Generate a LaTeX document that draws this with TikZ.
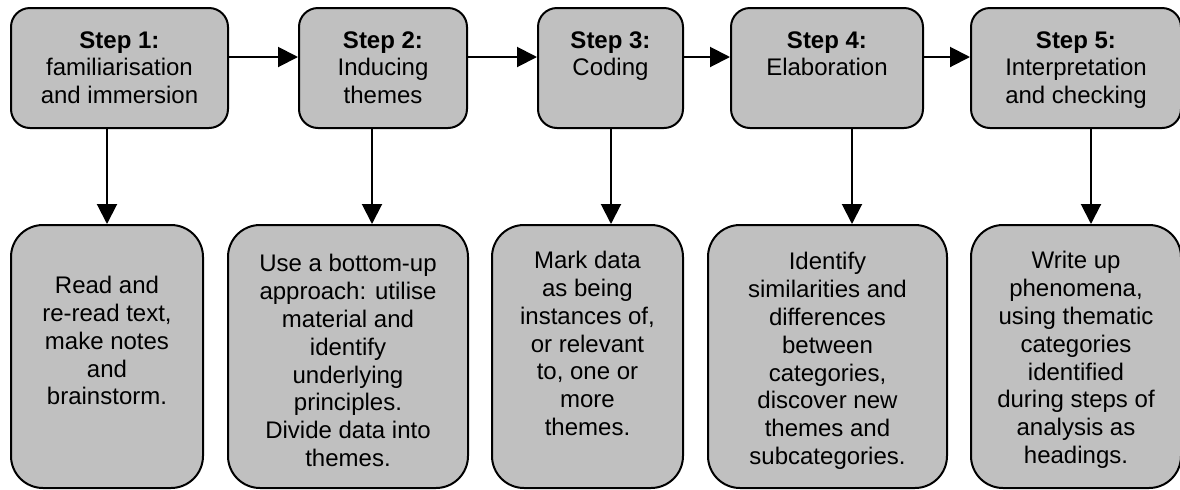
\documentclass[tikz,border=0pt]{standalone}
\usepackage{fontspec}
\setmainfont{Liberation Sans}
\usetikzlibrary{arrows.meta}
\definecolor{boxgray}{RGB}{192,192,192}
\begin{document}
\begin{tikzpicture}[x=0.5pt,y=-0.5pt,
  stepbox/.style={draw=black,fill=boxgray,line width=1pt,rounded corners=9.5pt,
    minimum height=60pt,inner sep=0pt},
  taskbox/.style={draw=black,fill=boxgray,line width=1pt,rounded corners=16pt,
    minimum height=131.5pt,inner sep=0pt},
  txt/.style={anchor=north,align=center,inner sep=0pt,
    font=\fontsize{12pt}{13.9pt}\selectfont},
  arr/.style={draw=black,line width=1pt,-{Triangle[length=10pt,width=10pt]}}]
\useasboundingbox (0,0) rectangle (1180,489);

% upper row: the five steps
\node[stepbox,minimum width=108.5pt] (T1) at (119.5,68) {};
\node[stepbox,minimum width=84pt]    (T2) at (383,68) {};
\node[stepbox,minimum width=72.5pt]  (T3) at (610.5,68) {};
\node[stepbox,minimum width=96pt]    (T4) at (827,68) {};
\node[stepbox,minimum width=105pt]   (T5) at (1076,68) {};

\node[txt] (t1) at (119.5,31) {\textbf{Step 1:}\\familiarisation\\and immersion};
\node[txt] (t2) at (383,31)   {\textbf{Step 2:}\\Inducing\\themes};
\node[txt] (t3) at (610.5,31) {\textbf{Step 3:}\\Coding};
\node[txt] (t4) at (827,31)   {\textbf{Step 4:}\\Elaboration};
\node[txt] (t5) at (1076,31)  {\textbf{Step 5:}\\Interpretation\\and checking};

% lower row: what each step involves
\node[taskbox,minimum width=96pt]    (B1) at (107,356.5) {};
\node[taskbox,minimum width=120pt]   (B2) at (348,356.5) {};
\node[taskbox,minimum width=95.5pt]  (B3) at (587.5,356.5) {};
\node[taskbox,minimum width=119.5pt] (B4) at (827.5,356.5) {};
\node[taskbox,minimum width=105pt]   (B5) at (1076,356.5) {};

\node[txt] (b1) at (107,276) {Read and\\re-read text,\\make notes\\and\\brainstorm.};
\node[txt] (b2) at (348,254) {Use a bottom-up\\approach: utilise\\material and\\identify\\underlying\\principles.\\Divide data into\\themes.};
\node[txt] (b3) at (587.5,251) {Mark data\\as being\\instances of,\\or relevant\\to, one or\\more\\themes.};
\node[txt] (b4) at (827.5,252) {Identify\\similarities and\\differences\\between\\categories,\\discover new\\themes and\\subcategories.};
\node[txt] (b5) at (1076,251) {Write up\\phenomena,\\using thematic\\categories\\identified\\during steps of\\analysis as\\headings.};

% connector guides
\coordinate (h)  at (0,57);
\coordinate (d1) at (107,0);
\coordinate (d2) at (372,0);
\coordinate (d3) at (611,0);
\coordinate (d4) at (852,0);
\coordinate (d5) at (1091,0);

% step-to-step arrows
\draw[arr] (T1.east |- h) -- (T2.west |- h);
\draw[arr] (T2.east |- h) -- (T3.west |- h);
\draw[arr] (T3.east |- h) -- (T4.west |- h);
\draw[arr] (T4.east |- h) -- (T5.west |- h);

% step-to-task arrows
\draw[arr] (T1.south -| d1) -- (B1.north -| d1);
\draw[arr] (T2.south -| d2) -- (B2.north -| d2);
\draw[arr] (T3.south -| d3) -- (B3.north -| d3);
\draw[arr] (T4.south -| d4) -- (B4.north -| d4);
\draw[arr] (T5.south -| d5) -- (B5.north -| d5);
\end{tikzpicture}
\end{document}
